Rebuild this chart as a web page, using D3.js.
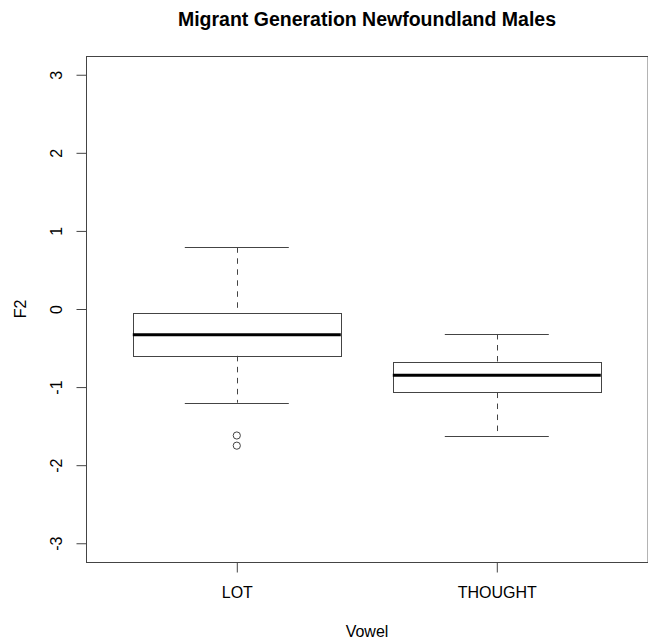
<!DOCTYPE html>
<html>
<head>
<meta charset="utf-8">
<script src="https://cdn.jsdelivr.net/npm/d3@7"></script>
<style>
  html, body { margin: 0; padding: 0; background: #fff; }
  svg { display: block; font-family: "Liberation Sans", Arial, Helvetica, sans-serif; }
</style>
</head>
<body>
<svg id="chart" width="648" height="640"></svg>
<script>
// ---- Data ----
const categories = ["LOT", "THOUGHT"];
const whiskerLow  = [-1.20, -1.63];
const boxLow      = [-0.60, -1.07];
const medians     = [-0.33, -0.85];
const boxHigh     = [-0.05, -0.68];
const whiskerHigh = [0.79, -0.32];
const outliers    = [[-1.62, -1.75], []];
const yTicks = [-3, -2, -1, 0, 1, 2, 3];
const yTickLabels = ["-3", "-2", "-1", "0", "1", "2", "3"];
const title = "Migrant Generation Newfoundland Males";
const xLabel = "Vowel";
const yLabel = "F2";

// ---- Layout ----
const plot = { left: 86, top: 56, bottom: 562 };
const svg = d3.select("#chart");
const ink = "#444";
const fontFam = "Liberation Sans, Arial, sans-serif";

const xs = d3.scaleLinear().domain([0.42, 2.58]).range([86, 86 + 2.16 * 260]);
const ys = d3.scaleLinear().domain([-3.24, 3.24]).range([plot.bottom, plot.top]);

// Plot frame (right side falls outside the canvas)
svg.append("rect")
  .attr("x", plot.left + 0.5).attr("y", plot.top + 0.5)
  .attr("width", xs(2.58) - plot.left).attr("height", plot.bottom - plot.top)
  .attr("fill", "none").attr("stroke", ink).attr("stroke-width", 1);

// Y axis
const yAxis = d3.axisLeft(ys).tickValues(yTicks).tickSize(10).tickPadding(0)
  .tickFormat((d, i) => yTickLabels[i]);
const gy = svg.append("g").attr("transform", `translate(${plot.left + 0.5},0)`).call(yAxis);
gy.select(".domain").remove();
gy.selectAll(".tick line").attr("stroke", ink);
gy.selectAll(".tick text")
  .attr("x", null).attr("dy", null)
  .attr("transform", "translate(-30,0) rotate(-90)")
  .attr("text-anchor", "middle")
  .attr("dominant-baseline", "central")
  .attr("font-size", 16).attr("fill", "#000")
  .style("font-family", fontFam);

// X axis
const xAxis = d3.axisBottom(xs).tickValues([1, 2]).tickSize(10).tickPadding(14)
  .tickFormat((d) => categories[d - 1]);
const gx = svg.append("g").attr("transform", `translate(0,${plot.bottom + 0.5})`).call(xAxis);
gx.select(".domain").remove();
gx.selectAll(".tick line").attr("stroke", ink);
gx.selectAll(".tick text").attr("font-size", 16).attr("fill", "#000")
  .attr("dy", null).attr("y", 35)
  .style("font-family", fontFam);

// Boxplots
const boxHalf = 0.4, capHalf = 0.2;
categories.forEach((c, i) => {
  const x = i + 1;
  const g = svg.append("g");
  const cx = Math.round(xs(x)) + 0.5;
  // whiskers (dashed)
  g.append("line").attr("x1", cx).attr("x2", cx)
    .attr("y1", ys(whiskerHigh[i])).attr("y2", ys(boxHigh[i]))
    .attr("stroke", ink).attr("stroke-dasharray", "5.5,5.5");
  g.append("line").attr("x1", cx).attr("x2", cx)
    .attr("y1", ys(boxLow[i])).attr("y2", ys(whiskerLow[i]))
    .attr("stroke", ink).attr("stroke-dasharray", "5.5,5.5");
  // caps
  [whiskerHigh[i], whiskerLow[i]].forEach(v => {
    g.append("line").attr("x1", xs(x - capHalf)).attr("x2", xs(x + capHalf))
      .attr("y1", Math.round(ys(v)) + 0.5).attr("y2", Math.round(ys(v)) + 0.5)
      .attr("stroke", ink);
  });
  // box
  g.append("rect")
    .attr("x", Math.round(xs(x - boxHalf)) + 0.5)
    .attr("y", Math.round(ys(boxHigh[i])) + 0.5)
    .attr("width", Math.round(xs(x + boxHalf) - xs(x - boxHalf)))
    .attr("height", Math.round(ys(boxLow[i]) - ys(boxHigh[i])))
    .attr("fill", "none").attr("stroke", ink);
  // median
  g.append("line").attr("x1", xs(x - boxHalf)).attr("x2", xs(x + boxHalf))
    .attr("y1", ys(medians[i])).attr("y2", ys(medians[i]))
    .attr("stroke", "#000").attr("stroke-width", 3);
  // outliers
  outliers[i].forEach(v => {
    g.append("circle").attr("cx", xs(x)).attr("cy", ys(v)).attr("r", 3.6)
      .attr("fill", "none").attr("stroke", ink);
  });
});

// Title and axis labels
svg.append("text").attr("x", 367).attr("y", 26)
  .attr("text-anchor", "middle").attr("font-size", 19.5).attr("font-weight", "bold")
  .attr("fill", "#000").style("font-family", fontFam).text(title);
svg.append("text").attr("x", 367).attr("y", 637)
  .attr("text-anchor", "middle").attr("font-size", 16).attr("fill", "#000")
  .style("font-family", fontFam).text(xLabel);
svg.append("text").attr("transform", `translate(20,${ys(0)}) rotate(-90)`)
  .attr("text-anchor", "middle").attr("dominant-baseline", "central")
  .attr("font-size", 16).attr("fill", "#000").style("font-family", fontFam).text(yLabel);
</script>
</body>
</html>
